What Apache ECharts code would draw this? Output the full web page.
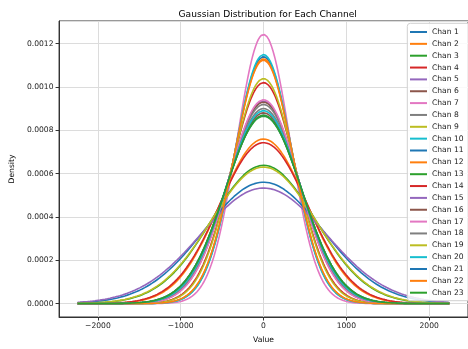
<!DOCTYPE html>
<html>
<head>
<meta charset="utf-8">
<script src="https://cdn.jsdelivr.net/npm/echarts@6/dist/echarts.min.js"></script>
<style>html,body{margin:0;padding:0;background:#fff}#c{width:468px;height:349px}</style>
</head>
<body>
<div id="c"></div>
<script>
const channels = ['Chan 1','Chan 2','Chan 3','Chan 4','Chan 5','Chan 6','Chan 7','Chan 8','Chan 9','Chan 10','Chan 11','Chan 12','Chan 13','Chan 14','Chan 15','Chan 16','Chan 17','Chan 18','Chan 19','Chan 20','Chan 21','Chan 22','Chan 23'];
const means = [0,0,0,0,0,0,0,0,0,0,0,0,0,0,0,0,0,0,0,0,0,0,0];
const stds = [350,353,461,391,427,429,321,434,384,347,712,525,625,537,748,453,424,443,633,448,459,355,459];
const colors = ['#1f77b4','#ff7f0e','#2ca02c','#d62728','#9467bd','#8c564b','#e377c2','#7f7f7f','#bcbd22','#17becf'];
const xTickValues = [-2000,-1000,0,1000,2000];
const yTickValues = [0,0.0002,0.0004,0.0006,0.0008,0.0010,0.0012];

const maxStd = Math.max(...stds);
const xLo = -3*maxStd, xHi = 3*maxStd, N = 600;
const xs = [];
for (let i = 0; i < N; i++) xs.push(xLo + (xHi - xLo) * i / (N - 1));
function pdf(x, m, s){ return Math.exp(-0.5*((x-m)/s)*((x-m)/s)) / (s*Math.sqrt(2*Math.PI)); }

const FONT = 'DejaVu Sans';
const series = channels.map((name, k) => ({
  name, type: 'line', symbol: 'none', animation: false,
  data: xs.map(x => [x, pdf(x, means[k], stds[k])]),
  lineStyle: { width: 1.6, color: colors[k % 10] },
  itemStyle: { color: colors[k % 10] }
}));

const span = xHi - xLo, yMax = Math.max(...stds.map((s,k)=>pdf(means[k],means[k],s)));
const chart = echarts.init(document.getElementById('c'), null, {renderer:'canvas'});
chart.setOption({
  animation: false,
  title: { text: 'Gaussian Distribution for Each Channel', left: 262.7, top: 5, textAlign: 'center',
    textStyle: { fontFamily: FONT, fontSize: 9.1, fontWeight: 'normal', color: '#000' } },
  grid: { left: 53.3, top: 21, width: 419.3, height: 303, show: true, borderColor: '#333', borderWidth: 1, backgroundColor: 'transparent' },
  xAxis: { type: 'value', min: xLo - 0.05*span, max: xHi + 0.05*span, splitNumber: 5,
    name: 'Value', nameLocation: 'middle', nameGap: 19,
    nameTextStyle: { fontFamily: FONT, fontSize: 7.6, color: '#000' },
    axisLine: { show: true, onZero: false, lineStyle: { color: '#333', width: 1 } },
    axisTick: { show: true, length: 3.5, lineStyle: { color: '#333' } },
    axisLabel: { showMinLabel: false, showMaxLabel: false, margin: 5, fontFamily: FONT, fontSize: 7.6, color: '#222',
      formatter: v => xTickValues.some(t => Math.abs(t - v) < 1e-6) ? String(v).replace('-', '\u2212') : '' },
    splitLine: { show: true, lineStyle: { color: '#dcdcdc', width: 1 } } },
  yAxis: { type: 'value', min: -0.05*yMax, max: 1.05*yMax, splitNumber: 7,
    name: 'Density', nameLocation: 'middle', nameGap: 39, nameRotate: 90,
    nameTextStyle: { fontFamily: FONT, fontSize: 7.6, color: '#000' },
    axisLine: { show: true, onZero: false, lineStyle: { color: '#333', width: 1 } },
    axisTick: { show: true, length: 3.5, lineStyle: { color: '#333' } },
    axisLabel: { showMinLabel: false, showMaxLabel: false, margin: 5.6, fontFamily: FONT, fontSize: 7.6, color: '#222',
      formatter: v => yTickValues.some(t => Math.abs(t - v) < 1e-9) ? v.toFixed(4) : '' },
    splitLine: { show: true, lineStyle: { color: '#dcdcdc', width: 1 } } },
  legend: { orient: 'vertical', left: 407.3, top: 23.3, icon: 'rect', itemWidth: 17, itemHeight: 2, itemGap: 3.85,
    padding: [4.7, 8, 4, 2.7], backgroundColor: 'rgba(255,255,255,0.85)', borderColor: '#d0d0d0', borderWidth: 1, borderRadius: 3,
    textStyle: { fontFamily: FONT, fontSize: 7.6, lineHeight: 8, color: '#222' },
    data: channels },
  series
});
</script>
</body>
</html>
